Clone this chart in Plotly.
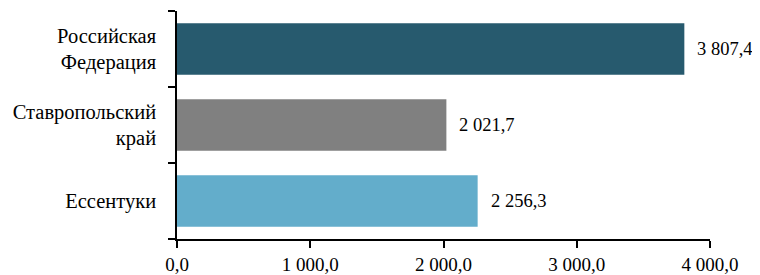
import plotly.graph_objects as go

categories = ["Российская<br>Федерация", "Ставропольский<br>край", "Ессентуки"]
values = [3807.4, 2021.7, 2256.3]
colors = ["#275A6E", "#808080", "#63ADCB"]
x_ticks = [0, 1000, 2000, 3000, 4000]

FONT = "Liberation Serif"

def fmt(v):
    s = f"{v:,.1f}"
    return s.replace(",", " ").replace(".", ",")

fig = go.Figure()
fig.add_trace(go.Bar(
    x=values, y=categories, orientation="h",
    marker=dict(color=colors, line=dict(width=0)),
    width=0.68, showlegend=False, hoverinfo="skip",
))

for v, c in zip(values, categories):
    fig.add_annotation(x=v, y=c, text=fmt(v), showarrow=False,
                       xanchor="left", xshift=11, yshift=0,
                       font=dict(family=FONT, size=18.5, color="#000"))

# the page body has an 8px margin, so the figure is placed at (8, 8)
fig.update_layout(
    width=752, height=267,
    margin=dict(l=169, r=50, t=3, b=36, autoexpand=False),
    paper_bgcolor="white", plot_bgcolor="white",
    separators=", ",
    font=dict(family=FONT, size=19, color="#000"),
)
fig.update_xaxes(
    range=[0, 4000], tickvals=x_ticks, tickformat=",.1f", automargin=False,
    showgrid=False, zeroline=False, showline=True, linecolor="#000", linewidth=1.5,
    ticks="outside", ticklen=7, tickcolor="#000", tickwidth=1.5,
    tickfont=dict(family=FONT, size=19),
)
fig.update_yaxes(
    type="category", categoryorder="array", categoryarray=categories[::-1],
    autorange=False, range=[-0.5, 2.5], automargin=False,
    tickson="boundaries", ticks="outside", ticklen=7, tickcolor="#000", tickwidth=1.5,
    showgrid=False, showline=True, linecolor="#000", linewidth=1.5,
    ticklabelstandoff=15, tickfont=dict(family=FONT, size=20.5),
)

fig.write_html("out.html")
